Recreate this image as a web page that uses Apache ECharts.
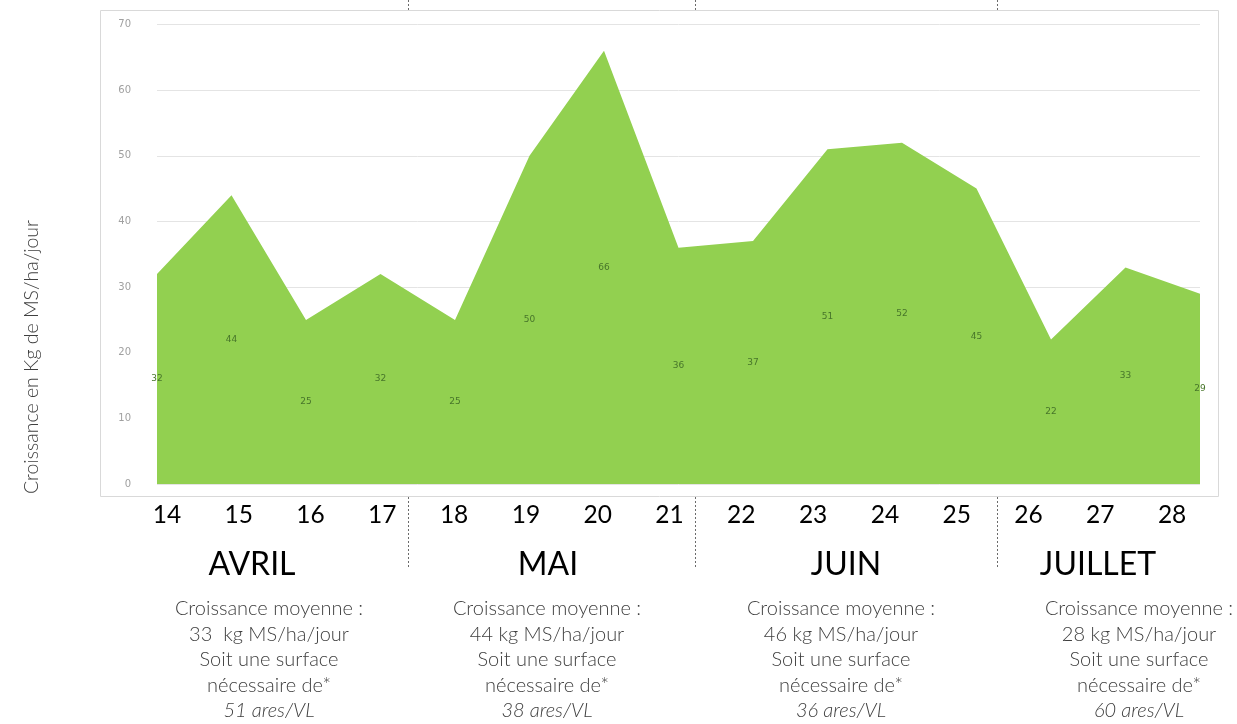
<!DOCTYPE html>
<html lang="fr">

<head>
    <meta charset="utf-8">
    <title>Croissance de l'herbe</title>
    <style media="screen">
        html, body {
            margin: 0;
            padding: 0;
            background: #fff;
        }
        #id-main-area {
            width: 1237px;
            height: 724px;
        }
    </style>
</head>

<body>
    <div id="id-main-area"></div>
    <script src="https://cdn.jsdelivr.net/npm/echarts@6/dist/echarts.min.js"></script>
    <script>
        var log = console.log.bind(console)

        // semaines et croissance (kg MS/ha/jour)
        var weeks = ['14', '15', '16', '17', '18', '19', '20', '21', '22', '23', '24', '25', '26', '27', '28']
        var croissance = [32, 44, 25, 32, 25, 50, 66, 36, 37, 51, 52, 45, 22, 33, 29]

        // axe vertical
        var yMin = 0
        var yMax = 70
        var yStep = 10

        // bilan par mois
        var months = ['AVRIL', 'MAI', 'JUIN', 'JUILLET']
        var moyennes = ['33  ', '44 ', '46 ', '28 ']
        var surfaces = [51, 38, 36, 60]

        var fontText = 'Lato, "Open Sans", sans-serif'

        var monthGraphics = () => {
            var monthX = [252, 548, 846, 1098]
            var blockX = [269, 547, 841, 1139]
            var l = []
            for (var i = 0; i < months.length; i++) {
                l.push({
                    type: 'text',
                    x: monthX[i],
                    y: 565,
                    style: {
                        text: months[i],
                        fontFamily: fontText,
                        fontSize: 32,
                        fill: '#000',
                        align: 'center',
                        verticalAlign: 'middle',
                    },
                })
                var t = [
                    'Croissance moyenne :',
                    moyennes[i] + 'kg MS/ha/jour',
                    'Soit une surface',
                    'nécessaire de*',
                    `{it|${surfaces[i]} ares/VL}`,
                ]
                l.push({
                    type: 'text',
                    x: blockX[i],
                    y: 596,
                    style: {
                        text: t.join('\n'),
                        fontFamily: fontText,
                        fontWeight: 300,
                        fontSize: 20,
                        lineHeight: 25.5,
                        fill: '#404040',
                        align: 'center',
                        verticalAlign: 'top',
                        rich: {
                            it: {
                                fontFamily: fontText,
                                fontWeight: 300,
                                fontStyle: 'italic',
                                fontSize: 20,
                                lineHeight: 25.5,
                                fill: '#404040',
                            },
                        },
                    },
                })
            }
            return l
        }

        var separatorGraphics = () => {
            var sepX = [408, 695, 997]
            var l = []
            for (var i = 0; i < sepX.length; i++) {
                var segs = [[0, 10], [497, 568]]
                for (var j = 0; j < segs.length; j++) {
                    l.push({
                        type: 'line',
                        shape: { x1: sepX[i] + 0.5, y1: segs[j][0], x2: sepX[i] + 0.5, y2: segs[j][1] },
                        style: { stroke: '#6b6b6b', lineWidth: 1, lineDash: [2, 2] },
                    })
                }
            }
            return l
        }

        var showChart = () => {
            var element = document.querySelector('#id-main-area')
            var myChart = echarts.init(element, null, { renderer: 'canvas' })

            var graphics = [
                {
                    type: 'rect',
                    shape: { x: 100.5, y: 10.5, width: 1118, height: 486 },
                    style: { fill: 'none', stroke: '#d9d9d9', lineWidth: 1 },
                },
                {
                    type: 'text',
                    x: 32,
                    y: 357,
                    rotation: Math.PI / 2,
                    style: {
                        text: 'Croissance en Kg de MS/ha/jour',
                        fontFamily: fontText,
                        fontWeight: 300,
                        fontSize: 19.5,
                        fill: '#404040',
                        align: 'center',
                        verticalAlign: 'middle',
                    },
                },
            ]
            graphics = [...graphics, ...separatorGraphics(), ...monthGraphics()]

            var option = {
                animation: false,
                graphic: { elements: graphics },
                grid: [
                    { left: 157, right: 37, top: 24.5, bottom: 240, containLabel: false },
                    { left: 131, width: 1077, top: 497, height: 1, containLabel: false },
                ],
                xAxis: [
                    {
                        type: 'category',
                        gridIndex: 0,
                        data: weeks,
                        boundaryGap: false,
                        axisLine: { show: false },
                        axisTick: { show: false },
                        axisLabel: { show: false },
                        splitLine: { show: false },
                    },
                    {
                        type: 'category',
                        gridIndex: 1,
                        data: weeks,
                        boundaryGap: true,
                        position: 'bottom',
                        axisLine: { show: false },
                        axisTick: { show: false },
                        splitLine: { show: false },
                        axisLabel: {
                            interval: 0,
                            margin: 5,
                            fontFamily: fontText,
                            fontSize: 24.5,
                            color: '#000',
                        },
                    },
                ],
                yAxis: [
                    {
                        type: 'value',
                        gridIndex: 0,
                        min: yMin,
                        max: yMax,
                        interval: yStep,
                        axisLine: { show: false },
                        axisTick: { show: false },
                        axisLabel: {
                            margin: 26,
                            fontFamily: '"DejaVu Sans", sans-serif',
                            fontSize: 10,
                            color: '#a0a0a0',
                        },
                        splitLine: { lineStyle: { color: '#e4e4e4', width: 1 } },
                    },
                    {
                        type: 'value',
                        gridIndex: 1,
                        show: false,
                    },
                ],
                series: [
                    {
                        type: 'line',
                        xAxisIndex: 0,
                        yAxisIndex: 0,
                        data: croissance,
                        symbol: 'none',
                        lineStyle: { width: 0 },
                        areaStyle: { color: '#92d050', opacity: 1 },
                        z: 2,
                    },
                    {
                        // étiquettes au milieu de la hauteur de l'aire
                        type: 'custom',
                        xAxisIndex: 0,
                        yAxisIndex: 0,
                        data: croissance.map((v, i) => [i, v]),
                        z: 3,
                        renderItem: (params, api) => {
                            var top = api.coord([api.value(0), api.value(1)])
                            var base = api.coord([api.value(0), 0])
                            return {
                                type: 'text',
                                x: top[0],
                                y: (top[1] + base[1]) / 2,
                                style: {
                                    text: String(api.value(1)),
                                    fontFamily: '"DejaVu Sans", sans-serif',
                                    fontSize: 9,
                                    fill: '#47752a',
                                    align: 'center',
                                    verticalAlign: 'middle',
                                },
                            }
                        },
                    },
                ],
            }
            myChart.setOption(option, true)
        }

        var __main = () => {
            showChart()
        }

        __main()
    </script>
</body>

</html>
